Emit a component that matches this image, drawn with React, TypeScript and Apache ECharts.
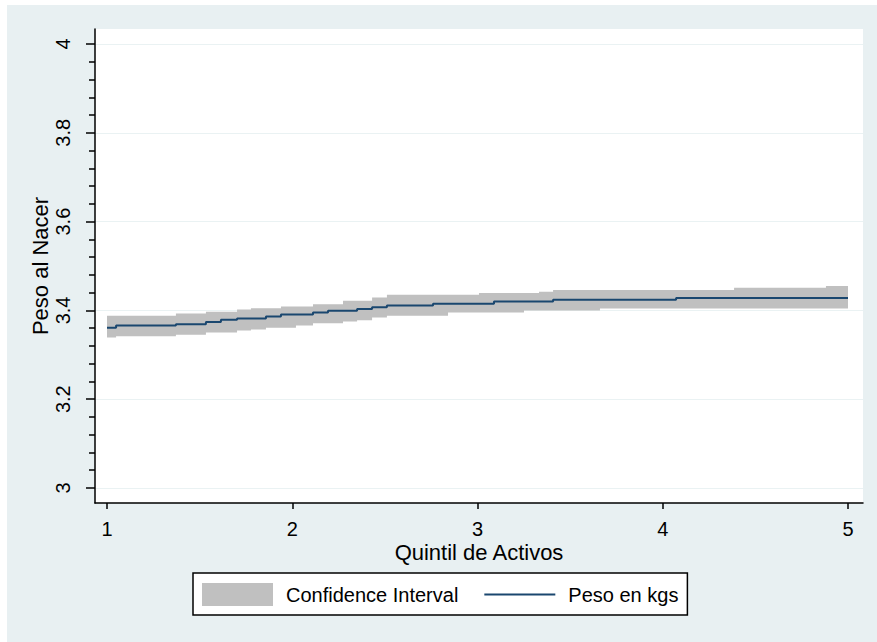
import React, { useEffect, useRef } from "react";
import * as echarts from "echarts";

// ---- data ----
const xTicks = [1, 2, 3, 4, 5];
const yTicks = [3, 3.2, 3.4, 3.6, 3.8, 4];
const yMinorTicks = [
  3.04, 3.08, 3.12, 3.16, 3.24, 3.28, 3.32, 3.36, 3.44, 3.48,
  3.52, 3.56, 3.64, 3.68, 3.72, 3.76, 3.84, 3.88, 3.92, 3.96,
];
const quintil = [
  1.0, 1.049, 1.372, 1.534, 1.615, 1.702, 1.777, 1.858, 1.939, 2.02,
  2.112, 2.193, 2.274, 2.35, 2.431, 2.511, 2.76, 2.841, 3.008, 3.089,
  3.251, 3.332, 3.408, 3.661, 4.072, 4.385, 4.881, 5.0,
];
const peso = [
  3.361, 3.366, 3.369, 3.374, 3.379, 3.382, 3.382, 3.386, 3.391, 3.391,
  3.395, 3.399, 3.399, 3.403, 3.407, 3.411, 3.415, 3.415, 3.415, 3.42,
  3.42, 3.42, 3.424, 3.424, 3.428, 3.428, 3.428, 3.428,
];
const ciUpper = [
  3.388, 3.388, 3.393, 3.397, 3.397, 3.402, 3.405, 3.405, 3.409, 3.409,
  3.414, 3.414, 3.422, 3.422, 3.429, 3.435, 3.435, 3.435, 3.439, 3.439,
  3.439, 3.442, 3.446, 3.446, 3.446, 3.451, 3.455, 3.455,
];
const ciLower = [
  3.339, 3.342, 3.345, 3.35, 3.35, 3.355, 3.357, 3.361, 3.361, 3.366,
  3.371, 3.371, 3.375, 3.378, 3.384, 3.388, 3.388, 3.395, 3.395, 3.395,
  3.4, 3.4, 3.4, 3.404, 3.404, 3.404, 3.404, 3.404,
];

const FONT = "Arial, 'Liberation Sans', sans-serif";
const BG = "#e8f0f2";
const GRIDLINE = "#eaf2f3";
const BAND = "#c0c0c0";
const LINE = "#1a476f";

const X_MIN = 0.9352;
const X_MAX = 5.081;
const Y_MIN = 2.9662;
const Y_MAX = 4.0338;

export default function App() {
  const ref = useRef<HTMLDivElement>(null);

  useEffect(() => {
    document.body.style.margin = "0";
    document.body.style.background = "#ffffff";
    const chart = echarts.init(ref.current as HTMLDivElement, null, { renderer: "svg" });

    const ciData = quintil.map((x, i) => [x, ciLower[i], ciUpper[i]]);
    const pesoData = quintil.map((x, i) => [x, peso[i]]);

    const option: any = {
      animation: false,
      backgroundColor: BG,
      textStyle: { fontFamily: FONT },
      grid: {
        left: 88,
        right: 14,
        top: 24,
        bottom: 139,
        show: true,
        backgroundColor: "#ffffff",
        borderWidth: 0,
      },
      legend: {
        left: 186,
        top: 568,
        orient: "horizontal",
        padding: [10, 9, 9, 9],
        itemWidth: 71,
        itemHeight: 23,
        itemGap: 25,
        borderColor: "#000000",
        borderWidth: 1.5,
        borderRadius: 0,
        backgroundColor: "#ffffff",
        textStyle: { fontSize: 20, color: "#000000", fontFamily: FONT, padding: [0, 0, 0, 8] },
        data: [
          { name: "Confidence Interval", icon: "rect", itemStyle: { color: BAND } },
          {
            name: "Peso en kgs",
            itemStyle: { opacity: 0 },
            lineStyle: { color: LINE, width: 2 },
          },
        ],
      },
      xAxis: {
        type: "value",
        min: X_MIN,
        max: X_MAX,
        name: "Quintil de Activos",
        nameLocation: "middle",
        nameGap: 41,
        nameMoveOverlap: false,
        nameTextStyle: { fontSize: 22, lineHeight: 16, color: "#000000", fontFamily: FONT },
        axisLine: { show: true, onZero: false, lineStyle: { color: "#000000", width: 1.5 } },
        axisTick: {
          show: true,
          customValues: xTicks,
          length: 6,
          lineStyle: { color: "#000000", width: 1.5 },
        },
        axisLabel: {
          customValues: xTicks,
          fontSize: 20,
          lineHeight: 14,
          color: "#000000",
          fontFamily: FONT,
          margin: 19,
          formatter: (v: number) => String(v),
        },
        splitLine: { show: false },
      },
      yAxis: [
        {
          type: "value",
          min: Y_MIN,
          max: Y_MAX,
          name: "Peso al Nacer",
          nameLocation: "middle",
          nameGap: 44,
          nameMoveOverlap: false,
          nameRotate: 90,
          nameTextStyle: { fontSize: 22, color: "#000000", fontFamily: FONT },
          axisLine: { show: true, onZero: false, lineStyle: { color: "#000000", width: 1.5 } },
          axisTick: {
            show: true,
            customValues: yTicks,
            length: 9,
            lineStyle: { color: "#000000", width: 1.5 },
          },
          axisLabel: {
            customValues: yTicks,
            rotate: 90,
            fontSize: 20,
            color: "#000000",
            fontFamily: FONT,
            margin: 22,
            formatter: (v: number) => String(Math.round(v * 10) / 10),
          },
          splitLine: { show: true, lineStyle: { color: GRIDLINE, width: 1 } },
        },
        {
          type: "value",
          min: Y_MIN,
          max: Y_MAX,
          position: "left",
          axisLine: { show: false },
          axisTick: {
            show: true,
            customValues: yMinorTicks,
            length: 6,
            lineStyle: { color: "#000000", width: 1.5 },
          },
          axisLabel: { show: false },
          splitLine: { show: false },
        },
      ],
      series: [
        {
          name: "Confidence Interval",
          type: "custom",
          silent: true,
          data: ciData,
          encode: { x: 0, y: [1, 2] },
          itemStyle: { color: BAND },
          renderItem: (params: any, api: any) => {
            if (params.dataIndex !== 0) return null;
            const pts: number[][] = [];
            const n = quintil.length;
            for (let i = 0; i < n - 1; i++) {
              pts.push(api.coord([quintil[i], ciUpper[i]]));
              pts.push(api.coord([quintil[i + 1], ciUpper[i]]));
            }
            for (let i = n - 2; i >= 0; i--) {
              pts.push(api.coord([quintil[i + 1], ciLower[i]]));
              pts.push(api.coord([quintil[i], ciLower[i]]));
            }
            return {
              type: "polygon",
              shape: { points: pts },
              style: { fill: BAND, stroke: null },
            };
          },
        },
        {
          name: "Peso en kgs",
          type: "line",
          step: "end",
          data: pesoData,
          symbol: "none",
          showSymbol: false,
          lineStyle: { color: LINE, width: 2 },
          itemStyle: { color: LINE },
        },
      ],
    };

    chart.setOption(option);
    return () => chart.dispose();
  }, []);

  return (
    <div
      ref={ref}
      style={{ position: "absolute", left: 7, top: 5, width: 870, height: 637 }}
    />
  );
}
